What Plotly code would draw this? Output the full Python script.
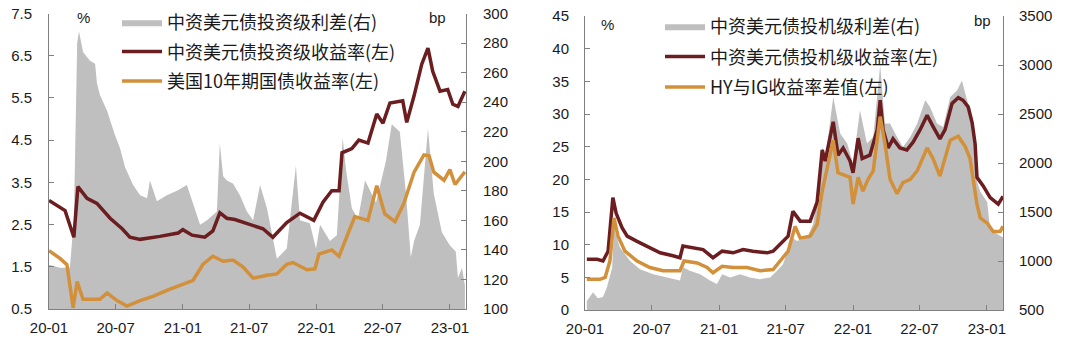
import plotly.graph_objects as go

# ---------------- Left chart data ----------------
ig_spread_dates = ["2020-01-01","2020-01-31","2020-02-27","2020-03-09","2020-03-18","2020-03-23","2020-04-03","2020-04-22",
    "2020-05-06","2020-05-11","2020-05-19","2020-06-08","2020-06-29","2020-07-13","2020-07-27","2020-08-18","2020-09-06",
    "2020-09-25","2020-10-03","2020-10-22","2020-11-18","2020-12-16","2021-01-12","2021-01-26","2021-02-17","2021-03-08",
    "2021-04-04","2021-04-12","2021-04-21","2021-05-01","2021-05-18","2021-06-06","2021-06-25","2021-07-12","2021-07-31",
    "2021-08-19","2021-09-15","2021-10-12","2021-10-21","2021-11-06","2021-11-17","2021-12-14","2021-12-31","2022-01-11",
    "2022-02-07","2022-02-26","2022-03-14","2022-03-23","2022-04-08","2022-04-25","2022-05-14","2022-06-13","2022-07-10",
    "2022-07-26","2022-08-17","2022-09-03","2022-09-16","2022-09-25","2022-10-11","2022-11-02","2022-11-18","2022-12-10",
    "2023-01-01","2023-01-17","2023-01-23","2023-02-03","2023-02-11"]
ig_spread_bp = [130,128,128,160,280,288,274,268,266,253,245,234,218,209,196,184,177,175,187,173,177,180,184,173,157,160,
    166,212,190,187,185,177,166,160,184,168,134,141,161,197,160,158,141,157,146,150,216,194,168,161,187,172,200,225,220,
    178,135,146,157,222,178,152,143,139,121,128,116]

ig_yield_dates = ["2020-01-01","2020-01-31","2020-02-14","2020-03-09","2020-03-20","2020-04-14","2020-05-11","2020-06-16",
    "2020-07-19","2020-08-09","2020-09-06","2020-10-30","2020-12-19","2021-01-01","2021-01-26","2021-03-02","2021-03-24",
    "2021-04-12","2021-05-01","2021-05-23","2021-07-03","2021-08-08","2021-09-04","2021-10-12","2021-11-17","2021-12-25",
    "2022-01-19","2022-02-12","2022-03-04","2022-03-12","2022-04-08","2022-04-27","2022-05-22","2022-06-15","2022-07-02",
    "2022-07-21","2022-08-25","2022-09-05","2022-09-25","2022-10-16","2022-11-02","2022-11-15","2022-12-05","2022-12-26",
    "2023-01-09","2023-01-23","2023-02-11"]
ig_yield = [3.07,2.9,2.83,2.2,3.4,3.12,3.0,2.65,2.4,2.2,2.15,2.22,2.3,2.38,2.25,2.2,2.35,2.78,2.65,2.62,2.5,2.4,2.2,2.55,
    2.77,2.6,3.03,3.3,3.3,4.2,4.3,4.5,4.43,5.12,4.9,5.38,5.43,4.92,5.55,6.3,6.68,6.13,5.66,5.7,5.35,5.3,5.66]

ust10_dates = ["2020-01-01","2020-01-31","2020-02-19","2020-03-07","2020-03-18","2020-04-03","2020-05-19","2020-06-08",
    "2020-07-05","2020-08-01","2020-09-06","2020-10-11","2020-11-18","2021-01-01","2021-01-29","2021-02-25","2021-03-24",
    "2021-04-21","2021-05-18","2021-06-14","2021-07-12","2021-08-19","2021-09-15","2021-10-12","2021-10-29","2021-12-06",
    "2021-12-28","2022-01-08","2022-02-12","2022-03-04","2022-03-25","2022-04-16","2022-05-22","2022-06-15","2022-07-07",
    "2022-08-04","2022-08-28","2022-09-25","2022-10-22","2022-11-05","2022-11-18","2022-12-16","2023-01-01","2023-01-15",
    "2023-02-11"]
ust10 = [1.88,1.7,1.55,0.53,1.15,0.73,0.73,0.88,0.7,0.57,0.7,0.8,0.94,1.1,1.18,1.56,1.75,1.63,1.66,1.5,1.23,1.3,1.33,
    1.56,1.6,1.43,1.45,1.8,1.9,1.75,2.23,2.69,2.6,3.42,2.75,2.57,3.0,3.74,4.15,4.13,3.74,3.55,3.8,3.45,3.75]

# ---------------- Right chart data ----------------
hy_spread_dates = ["2020-01-06","2020-01-23","2020-02-05","2020-02-19","2020-03-01","2020-03-15","2020-03-20","2020-04-05",
    "2020-05-03","2020-05-30","2020-07-05","2020-08-12","2020-09-16","2020-09-24","2020-10-13","2020-11-10","2020-12-07",
    "2020-12-26","2021-01-09","2021-01-31","2021-02-27","2021-03-26","2021-04-22","2021-05-20","2021-06-08","2021-06-24",
    "2021-07-19","2021-08-01","2021-08-29","2021-09-14","2021-09-28","2021-10-09","2021-10-17","2021-11-08","2021-11-27",
    "2021-12-16","2022-01-01","2022-01-20","2022-02-08","2022-02-25","2022-03-16","2022-03-29","2022-04-12","2022-05-01",
    "2022-05-17","2022-06-06","2022-06-25","2022-07-17","2022-07-30","2022-08-18","2022-09-04","2022-09-23","2022-10-12",
    "2022-10-25","2022-11-08","2022-11-22","2022-11-30","2022-12-05","2022-12-14","2023-01-02","2023-01-10","2023-02-14"]
hy_spread_bp = [592,680,620,633,735,931,1330,1140,1000,917,866,832,800,935,900,866,800,765,866,832,866,832,815,832,900,
    968,1240,1205,1240,1375,1713,2164,2028,2673,2300,2200,1995,2538,2200,2266,2997,2402,2402,2266,2164,2266,2402,2640,
    2572,2402,2368,2673,2742,2843,2640,2470,2198,1812,1710,1600,1320,1240]

hy_yield_dates = ["2020-01-06","2020-02-03","2020-02-19","2020-03-04","2020-03-17","2020-03-26","2020-04-11","2020-04-25",
    "2020-05-22","2020-06-18","2020-07-24","2020-08-28","2020-09-16","2020-09-24","2020-10-22","2020-11-18","2020-12-15",
    "2021-01-09","2021-02-08","2021-03-07","2021-04-03","2021-05-12","2021-05-28","2021-06-16","2021-07-08","2021-07-21",
    "2021-08-10","2021-09-06","2021-09-25","2021-10-09","2021-10-17","2021-11-08","2021-11-21","2021-12-05","2021-12-24",
    "2022-01-01","2022-01-15","2022-01-26","2022-02-16","2022-03-08","2022-03-16","2022-03-24","2022-04-07","2022-04-20",
    "2022-05-09","2022-05-28","2022-06-14","2022-07-03","2022-07-22","2022-08-07","2022-08-26","2022-09-09","2022-09-28",
    "2022-10-15","2022-10-28","2022-11-11","2022-11-22","2022-11-30","2022-12-05","2022-12-22","2023-01-10","2023-02-01",
    "2023-02-14"]
hy_yield = [7.75,7.75,7.5,9,17.2,14.8,12.6,11.3,10.5,9.8,8.75,8.3,8.0,9.8,9.5,9.25,8.0,9,8.75,9.25,9,8.75,9,10,11.3,15.1,
    13.6,13.6,16.5,24.5,22.8,28.8,23.7,24.8,22.8,21,26.3,23.2,23.7,27.6,32.1,27.6,24.8,26.2,24.8,24.5,25.7,27.6,29.8,28.1,
    26.2,27.6,31.6,32.5,32.1,31.1,28.6,25.4,20.3,19,17.2,16.2,17.4]

hy_ig_dates = ["2020-01-06","2020-02-11","2020-02-25","2020-03-09","2020-03-20","2020-03-31","2020-04-19","2020-05-22",
    "2020-06-26","2020-08-01","2020-09-16","2020-09-27","2020-11-02","2020-11-29","2020-12-15","2021-01-09","2021-02-08",
    "2021-03-18","2021-04-22","2021-05-28","2021-06-16","2021-07-08","2021-07-27","2021-08-10","2021-09-06","2021-09-25",
    "2021-10-09","2021-10-22","2021-11-08","2021-11-21","2021-12-24","2022-01-01","2022-01-15","2022-01-28","2022-02-11",
    "2022-02-25","2022-03-08","2022-03-16","2022-03-29","2022-04-12","2022-05-01","2022-05-17","2022-06-06","2022-06-25",
    "2022-07-22","2022-08-07","2022-08-26","2022-09-23","2022-10-15","2022-11-03","2022-11-16","2022-11-24","2022-12-05",
    "2022-12-14","2023-01-02","2023-01-18","2023-02-06","2023-02-14"]
hy_ig_diff = [4.7,4.7,5,7.5,14.1,11.3,9,7.5,6.5,6,6,7.5,7.2,6.5,5.7,6.7,6.5,6.5,6,6.2,7.5,9,12.8,11,11.3,13.1,18.2,21.5,
    26,21,20.3,16.2,20.3,18.2,20,21.3,26,29.6,25.5,20,17.8,19.5,20,21.3,24.8,23.2,20.5,26,26.6,25,23.2,20.3,16.2,14.1,13.3,
    12,12,12.8]

# ---------------- Styling ----------------
RED = "#6B1D20"
ORANGE = "#D3903A"
GRAY = "#BFBFBF"
AX = "#808080"
TXT = "#1a1a1a"
LATIN = "Liberation Sans, Arial, sans-serif"
NUMFONT = dict(family=LATIN, size=15, color=TXT)
CJK = "Noto Sans CJK SC"
W, H = 1080, 342

def px(x):
    return x / W

def py(y):
    return 1 - y / H

fig = go.Figure()

# Left chart: base axis y (bp, right side), overlay y2 (%, left side)
fig.add_trace(go.Scatter(x=ig_spread_dates, y=ig_spread_bp, xaxis="x", yaxis="y", mode="lines",
                         line=dict(width=0, color=GRAY), fill="tozeroy", fillcolor=GRAY,
                         name="中资美元债投资级利差(右)", legend="legend", legendgroup="a1"))
fig.add_trace(go.Scatter(x=ig_yield_dates, y=ig_yield, xaxis="x", yaxis="y2", mode="lines",
                         line=dict(width=3.5, color=RED),
                         name="中资美元债投资级收益率(左)", legend="legend", legendgroup="a2"))
fig.add_trace(go.Scatter(x=ust10_dates, y=ust10, xaxis="x", yaxis="y2", mode="lines",
                         line=dict(width=3.5, color=ORANGE),
                         name="美国10年期国债收益率(左)", legend="legend", legendgroup="a3"))

# Right chart: base axis y3 (bp, right side), overlay y4 (%, left side)
fig.add_trace(go.Scatter(x=hy_spread_dates, y=hy_spread_bp, xaxis="x2", yaxis="y3", mode="lines",
                         line=dict(width=0, color=GRAY), fill="tozeroy", fillcolor=GRAY,
                         name="中资美元债投机级利差(右)", legend="legend2", legendgroup="b1"))
fig.add_trace(go.Scatter(x=hy_yield_dates, y=hy_yield, xaxis="x2", yaxis="y4", mode="lines",
                         line=dict(width=3.5, color=RED),
                         name="中资美元债投机级收益率(左)", legend="legend2", legendgroup="b2"))
fig.add_trace(go.Scatter(x=hy_ig_dates, y=hy_ig_diff, xaxis="x2", yaxis="y4", mode="lines",
                         line=dict(width=3.5, color=ORANGE),
                         name="HY与IG收益率差值(左)", legend="legend2", legendgroup="b3"))

common_axis = dict(showline=True, linecolor=AX, linewidth=1, ticks="inside", ticklen=5, tickcolor=AX,
                   showgrid=False, zeroline=False, tickfont=NUMFONT)
xcommon = dict(common_axis, type="date", range=["2020-01-01", "2023-02-14"], tick0="2020-01-01",
               dtick="M6", tickformat="%y-%m", ticklabelstandoff=5)

def unit_label(text, x, y):
    return dict(text=text, x=px(x), y=py(y), xref="paper", yref="paper", showarrow=False,
                xanchor="center", yanchor="middle", font=dict(family=LATIN, size=15, color=TXT))

fig.update_layout(
    width=W, height=H, margin=dict(l=0, r=0, t=0, b=0, autoexpand=False),
    paper_bgcolor="white", plot_bgcolor="rgba(0,0,0,0)",
    xaxis=dict(xcommon, domain=[px(49), px(466)], anchor="y"),
    yaxis=dict(common_axis, domain=[py(309), py(13.5)], anchor="x", side="right", range=[100, 300], dtick=20,
               ticklabelstandoff=13),
    yaxis2=dict(common_axis, overlaying="y", anchor="x", side="left", range=[0.5, 7.5], tick0=0.5, dtick=1,
                tickformat=".1f", ticklabelstandoff=13),
    xaxis2=dict(xcommon, domain=[px(585), px(1003)], anchor="y3"),
    yaxis3=dict(common_axis, domain=[py(310), py(16)], anchor="x2", side="right", range=[500, 3500], dtick=500,
                ticklabelstandoff=12),
    yaxis4=dict(common_axis, overlaying="y3", anchor="x2", side="left", range=[0, 45], dtick=5,
                ticklabelstandoff=12),
    legend=dict(x=px(117), y=py(4), xanchor="left", yanchor="top", bgcolor="rgba(0,0,0,0)",
                font=dict(family=CJK, size=18, color=TXT), tracegroupgap=3, itemwidth=40),
    legend2=dict(x=px(660), y=py(8), xanchor="left", yanchor="top", bgcolor="rgba(0,0,0,0)",
                 font=dict(family=CJK, size=18, color=TXT), tracegroupgap=4, itemwidth=40),
    annotations=[
        unit_label("%", 83, 18),
        unit_label("bp", 437, 18),
        unit_label("%", 607, 24),
        unit_label("bp", 982, 20),
    ],
)

fig.write_html("out.html")
